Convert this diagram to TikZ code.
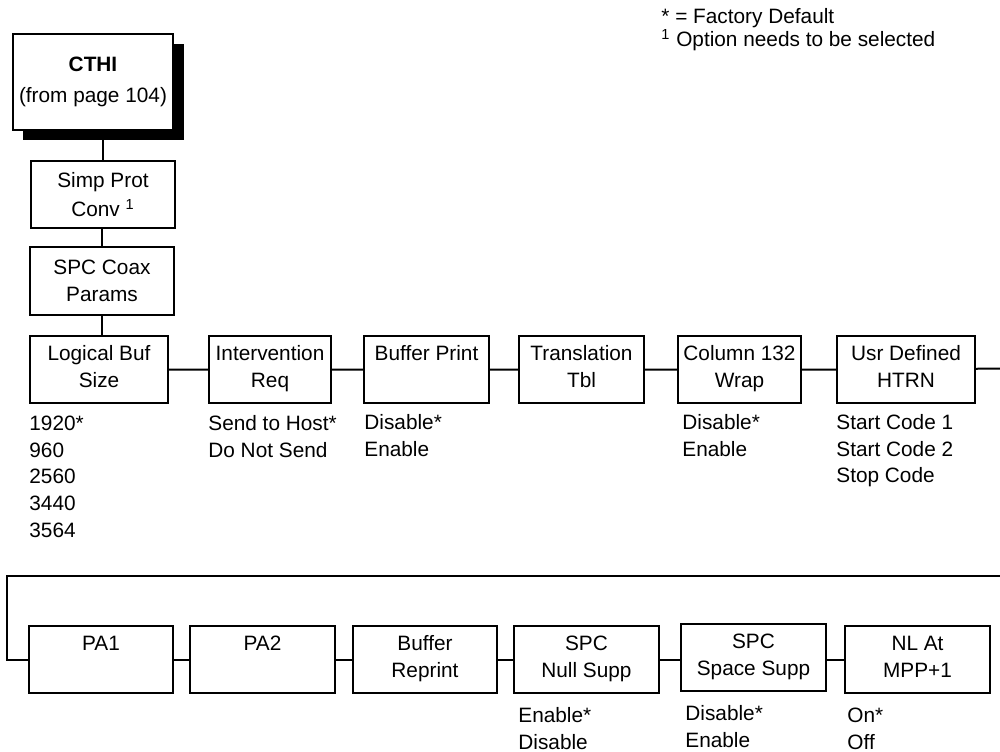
\documentclass[tikz,border=0pt]{standalone}
\usepackage{fontspec}
\setmainfont{Liberation Sans}
\begin{document}
\begin{tikzpicture}[x=0.5pt,y=-0.5pt,
  every node/.style={font=\fontsize{10.4}{13.35}\selectfont},
  rbox/.style={draw, line width=1pt, anchor=north west, inner sep=0pt, minimum height=33.5pt},
  lbl/.style={anchor=north, yshift=-2.7pt, align=center, inner sep=0pt},
  opts/.style={anchor=north west, align=left, inner sep=0pt},
  link/.style={line width=1pt}]
\useasboundingbox (0,0) rectangle (1000,751);
% legend
\node[opts] (legA) at (661,3) {\rule{0pt}{10pt}* = Factory Default};
\node[opts] (legB) at (661,26) {\rule{0pt}{10pt}\textsuperscript{1} Option needs to be selected};
% CTHI with shadow
\fill (23,44) rectangle (184,140);
\node[draw, line width=1pt, fill=white, anchor=north west, minimum width=80pt, minimum height=48pt, inner sep=0pt, align=center] (cthi) at (12,33) {\textbf{CTHI}\\[2pt](from page 104)};
\node[draw, line width=1pt, anchor=north west, minimum width=72pt, minimum height=33.5pt, inner sep=0pt, align=center] (simp) at (30,160) {Simp Prot\\[1pt]Conv \textsuperscript{1}};
\node[draw, line width=1pt, anchor=north west, minimum width=72pt, minimum height=34pt, inner sep=0pt, align=center] (coax) at (29,246) {SPC Coax\\Params};
% row 1
\node[rbox, minimum width=69pt, label={[lbl]north:\rule{0pt}{10pt}Logical Buf\\Size}] (lbuf) at (29,335) {};
\node[rbox, minimum width=61pt, label={[lbl]north:\rule{0pt}{10pt}Intervention\\Req}] (interv) at (208,335) {};
\node[rbox, minimum width=62.5pt, label={[lbl]north:\rule{0pt}{10pt}Buffer Print}] (bprint) at (363,335) {};
\node[rbox, minimum width=62.5pt, label={[lbl]north:\rule{0pt}{10pt}Translation\\Tbl}] (trans) at (518,335) {};
\node[rbox, minimum width=61.5pt, label={[lbl]north:\rule{0pt}{10pt}Column 132\\Wrap}] (col) at (677,335) {};
\node[rbox, minimum width=69pt, label={[lbl]north:\rule{0pt}{10pt}Usr Defined\\HTRN}] (usr) at (836,335) {};
\coordinate (r1end) at (1000,368.5);
% row 1 options
\node[opts] (o1) at (29,410) {\rule{0pt}{10pt}1920*\\960\\2560\\3440\\3564};
\node[opts] (o2) at (208,410) {\rule{0pt}{10pt}Send to Host*\\Do Not Send};
\node[opts] (o3) at (364,409) {\rule{0pt}{10pt}Disable*\\Enable};
\node[opts] (o5) at (682,409) {\rule{0pt}{10pt}Disable*\\Enable};
\node[opts] (o6) at (836,409) {\rule{0pt}{10pt}Start Code 1\\Start Code 2\\Stop Code};
% row 2
\node[rbox, minimum width=72pt, label={[lbl]north:\rule{0pt}{10pt}PA1}] (pa1) at (28,625) {};
\node[rbox, minimum width=72.5pt, label={[lbl]north:\rule{0pt}{10pt}PA2}] (pa2) at (189,625) {};
\node[rbox, minimum width=72pt, label={[lbl]north:\rule{0pt}{10pt}Buffer\\Reprint}] (brep) at (352,625) {};
\node[rbox, minimum width=72.5pt, label={[lbl]north:\rule{0pt}{10pt}SPC\\Null Supp}] (null) at (513,625) {};
\node[rbox, minimum width=72.5pt, label={[lbl]north:\rule{0pt}{10pt}SPC\\Space Supp}] (space) at (680,623) {};
\node[rbox, minimum width=72.5pt, label={[lbl]north:\rule{0pt}{10pt}NL At\\MPP+1}] (nl) at (844,625) {};
\coordinate (r2end) at (1000,576);
\coordinate (r2corner) at (7,576);
% row 2 options
\node[opts] (p4) at (518,702) {\rule{0pt}{10pt}Enable*\\Disable};
\node[opts] (p5) at (685,700) {\rule{0pt}{10pt}Disable*\\Enable};
\node[opts] (p6) at (847,702) {\rule{0pt}{10pt}On*\\Off};
% connectors
\draw[link] (simp.north) -- (simp.north |- cthi.south);
\draw[link] (simp.south) -- (simp.south -| coax.north) -- (coax.north);
\draw[link] (coax.south) -- (coax.south |- lbuf.north);
\draw[link] (lbuf) -- (interv) -- (bprint) -- (trans) -- (col) -- (usr) -- (r1end);
\draw[link] (r2end) -- (r2corner) -- (r2corner |- pa1.west) -- (pa1.west);
\draw[link] (pa1) -- (pa2) -- (brep) -- (null);
\draw[link] (null.east) -- (null.east -| space.west);
\draw[link] (space.east |- nl.west) -- (nl.west);
\end{tikzpicture}
\end{document}
